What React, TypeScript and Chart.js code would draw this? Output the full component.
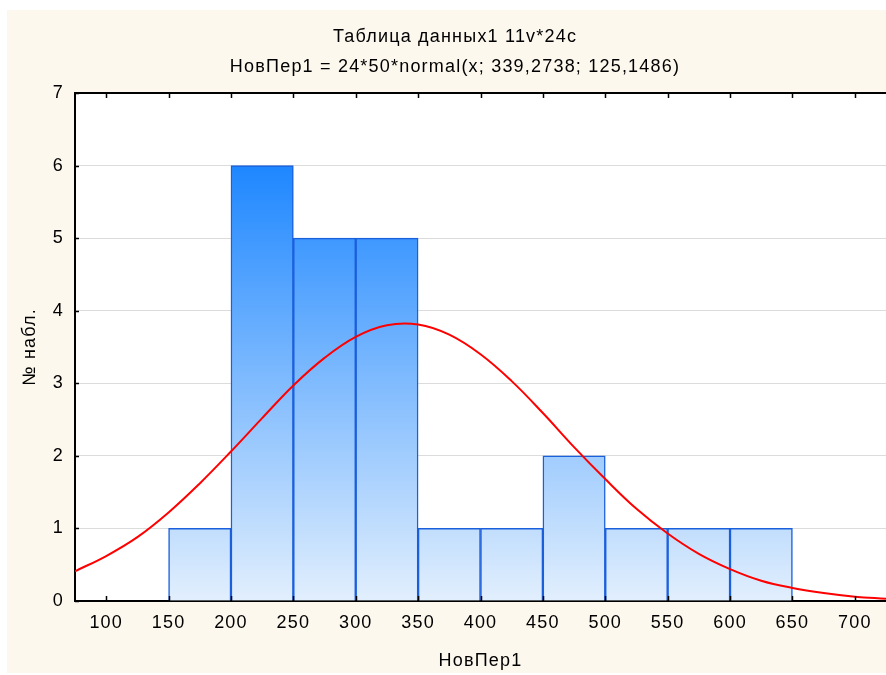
import React, { useEffect, useRef } from "react";
import { Chart, registerables } from "chart.js";

Chart.register(...registerables);

const titleLines = ["Таблица данных1 11v*24c", "НовПер1 = 24*50*normal(x; 339,2738; 125,1486)"];
const xAxisTitle = "НовПер1";
const yAxisTitle = "№ набл.";

// histogram bin centres (bins of width 50) and counts
const binCenters = [175, 225, 275, 325, 375, 425, 475, 525, 575, 625];
const binCounts = [1, 6, 5, 5, 1, 1, 2, 1, 1, 1];

// fitted normal curve
const curveX = [75, 100, 125, 150, 175, 200, 225, 250, 275, 300, 325, 350, 375, 400, 425, 450, 475, 500, 525, 550, 575, 600, 625, 650, 675, 700, 725];
const curveY = [0.41, 0.62, 0.88, 1.22, 1.62, 2.06, 2.52, 2.97, 3.35, 3.64, 3.8, 3.81, 3.67, 3.4, 3.03, 2.59, 2.12, 1.68, 1.27, 0.93, 0.65, 0.44, 0.28, 0.18, 0.11, 0.06, 0.03];

const xTicks = [100, 150, 200, 250, 300, 350, 400, 450, 500, 550, 600, 650, 700];
const yTicks = [0, 1, 2, 3, 4, 5, 6, 7];

const FONT = "'Liberation Sans', Arial, sans-serif";
const FS = 18;

export default function App() {
  const ref = useRef<HTMLCanvasElement>(null);
  useEffect(() => {
    document.body.style.margin = "0";
    const canvas = ref.current!;
    const setSpacing = (chart: any) => {
      try {
        chart.ctx.letterSpacing = "1.2px";
      } catch (e) {}
    };
    const framePlugin = {
      id: "frame",
      afterInit: setSpacing,
      beforeUpdate: setSpacing,
      beforeLayout: setSpacing,
      afterLayout(chart: any) {
        if (chart.titleBlock) chart.titleBlock.left += 24;
      },
      beforeDraw(chart: any) {
        setSpacing(chart);
        const { ctx, chartArea: a } = chart;
        ctx.save();
        ctx.fillStyle = "#ffffff";
        ctx.fillRect(0, 0, chart.width, chart.height);
        ctx.fillStyle = "#fdf8ee";
        ctx.fillRect(7, 10, chart.width - 7, chart.height - 12);
        ctx.fillStyle = "#ffffff";
        ctx.fillRect(a.left, a.top, a.right - a.left, a.bottom - a.top);
        ctx.restore();
      },
      afterDraw(chart: any) {
        const { ctx, chartArea: a, scales } = chart;
        ctx.save();
        ctx.strokeStyle = "#000";
        ctx.lineWidth = 2;
        ctx.beginPath();
        ctx.moveTo(a.left - 1, a.top);
        ctx.lineTo(a.right, a.top);
        ctx.stroke();
        ctx.lineWidth = 1.5;
        ctx.beginPath();
        for (const v of xTicks) {
          const px = Math.round(scales.x.getPixelForValue(v)) + 0.5;
          ctx.moveTo(px, a.bottom);
          ctx.lineTo(px, a.bottom - 5);
          ctx.moveTo(px, a.top);
          ctx.lineTo(px, a.top + 5);
        }
        for (const v of yTicks) {
          const py = Math.round(scales.y.getPixelForValue(v)) + 0.5;
          ctx.moveTo(a.left, py);
          ctx.lineTo(a.left + 4, py);
        }
        ctx.stroke();
        ctx.restore();
      },
    };

    const chart = new Chart(canvas, {
      type: "bar",
      data: {
        datasets: [
          {
            type: "bar",
            data: binCenters.map((x, i) => ({ x, y: binCounts[i] })),
            backgroundColor: (c: any) => {
              const ch = c.chart;
              const a = ch.chartArea;
              if (!a) return "#8cc0ff";
              const ys = ch.scales.y;
              const g = ch.ctx.createLinearGradient(0, ys.getPixelForValue(6), 0, ys.getPixelForValue(0));
              g.addColorStop(0, "#1e87ff");
              g.addColorStop(1, "#e2effd");
              return g;
            },
            borderColor: "#1a5fdc",
            borderWidth: 1.5,
            barPercentage: 1,
            categoryPercentage: 1,
            order: 2,
          } as any,
          {
            type: "line",
            data: curveX.map((x, i) => ({ x, y: curveY[i] })),
            borderColor: "#ff0000",
            borderWidth: 2,
            pointRadius: 0,
            tension: 0.4,
            fill: false,
            order: 1,
          } as any,
        ],
      },
      options: {
        animation: false,
        responsive: false,
        maintainAspectRatio: false,
        layout: { padding: { left: 0, right: 0, top: 0, bottom: 0 } },
        plugins: {
          legend: { display: false },
          tooltip: { enabled: false },
          title: {
            display: true,
            text: titleLines,
            color: "#000",
            font: { family: FONT, size: FS, weight: "normal", lineHeight: 30 / FS },
            padding: { top: 22, bottom: 11 },
          },
        },
        scales: {
          x: {
            type: "linear",
            min: 75,
            max: 725,
            offset: false,
            afterBuildTicks: (s: any) => {
              s.ticks = xTicks.map((v) => ({ value: v }));
            },
            afterFit: (s: any) => {
              s.height = 74;
            },
            grid: { display: false, drawTicks: false },
            border: { display: true, color: "#000", width: 2 },
            ticks: { color: "#000", font: { family: FONT, size: FS }, padding: 11, maxRotation: 0, autoSkip: false },
            title: { display: true, text: xAxisTitle, color: "#000", font: { family: FONT, size: FS }, padding: { top: 0, bottom: 3 } },
          },
          y: {
            type: "linear",
            min: 0,
            max: 7,
            afterBuildTicks: (s: any) => {
              s.ticks = yTicks.map((v) => ({ value: v }));
            },
            afterFit: (s: any) => {
              s.width = 75;
            },
            grid: { color: "#dcdcdc", lineWidth: 1, drawTicks: false },
            border: { display: true, color: "#000", width: 2 },
            ticks: { color: "#000", font: { family: FONT, size: FS }, padding: 11 },
            title: { display: true, text: yAxisTitle, color: "#000", font: { family: FONT, size: FS }, padding: { top: 19, bottom: 0 } },
          },
        },
      },
      plugins: [framePlugin],
    } as any);
    return () => chart.destroy();
  }, []);
  return <canvas ref={ref} width={886} height={675} style={{ display: "block" }} />;
}
